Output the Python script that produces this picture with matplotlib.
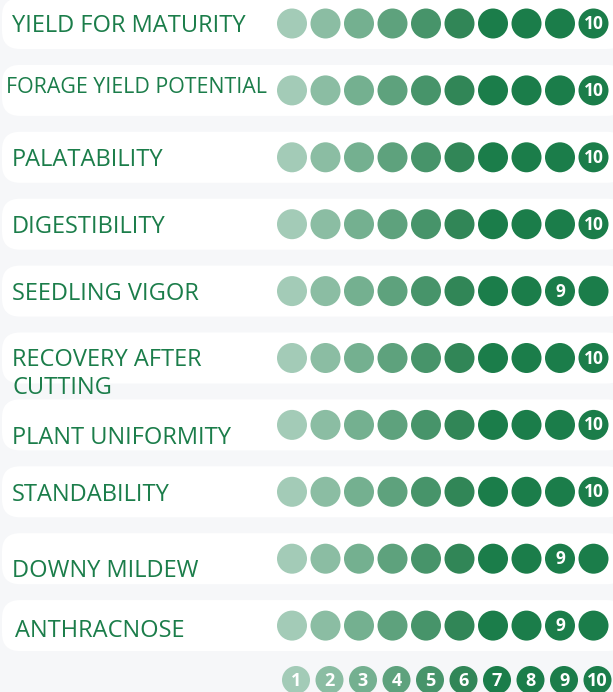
import matplotlib.pyplot as plt
from matplotlib.patches import Circle, FancyBboxPatch

# Data
traits = ["YIELD FOR MATURITY", "FORAGE YIELD POTENTIAL", "PALATABILITY",
          "DIGESTIBILITY", "SEEDLING VIGOR", "RECOVERY AFTER\nCUTTING",
          "PLANT UNIFORMITY", "STANDABILITY", "DOWNY MILDEW", "ANTHRACNOSE"]
scores = [10, 10, 10, 10, 9, 10, 10, 10, 9, 9]
scale = list(range(1, 11))

dot_colors = ["#a3cbb7", "#8bbda3", "#74b090", "#5ea27d", "#47946a",
              "#318657", "#1b7d4a", "#1b7d4a", "#1b7d4a", "#1b7d4a"]
text_green = "#1b7d4a"
bg = "#f6f7f9"

# label tweaks (x offset, y offset, fontsize) to mimic the original layout
label_style = {
    "FORAGE YIELD POTENTIAL": (6, -3, 15.4),
    "RECOVERY AFTER\nCUTTING": (12, 16, 17.0),
    "PLANT UNIFORMITY": (12, 13, 17.0),
    "DOWNY MILDEW": (12, 12, 17.0),
    "ANTHRACNOSE": (15, 5, 17.0),
}

W, H = 613, 692
fig = plt.figure(figsize=(W / 100, H / 100), dpi=100)
fig.patch.set_facecolor(bg)
ax = fig.add_axes([0, 0, 1, 1])
ax.set_xlim(0, W)
ax.set_ylim(H, 0)
ax.set_aspect("equal")
ax.axis("off")

row_top0 = -2
pitch = 66.9
box_h = 51
x0 = 292
dx = 33.5
r = 15

for i, (name, sc) in enumerate(zip(traits, scores)):
    top = row_top0 + i * pitch
    cy = top + box_h / 2
    ax.add_patch(FancyBboxPatch((2, top), W + 10, box_h,
                                boxstyle="round,pad=0,rounding_size=18",
                                fc="white", ec="none", zorder=1))
    lx, ly, fs = label_style.get(name, (12, 3, 17.0))
    ax.text(lx, cy + ly, name, fontsize=fs, color=text_green, family="Open Sans",
            ha="left", va="center", linespacing=1.2, zorder=3)
    for k in range(10):
        cx = x0 + k * dx
        ax.add_patch(Circle((cx, cy), r, fc=dot_colors[k], ec="none", zorder=2))
        if k + 1 == sc:
            ax.text(cx, cy + 0.5, str(sc), fontsize=12.5, fontweight="bold", color="white",
                    family="Open Sans", ha="center", va="center", zorder=3)

# scale legend at the bottom
ly = 680
for k, n in enumerate(scale):
    cx = x0 + 4 + k * dx
    ax.add_patch(Circle((cx, ly), 14, fc=dot_colors[k], ec="none", zorder=2))
    ax.text(cx, ly + 0.5, str(n), fontsize=13, fontweight="bold", color="white",
            family="Open Sans", ha="center", va="center", zorder=3)

fig.savefig("out.png", dpi=100, facecolor=bg)
